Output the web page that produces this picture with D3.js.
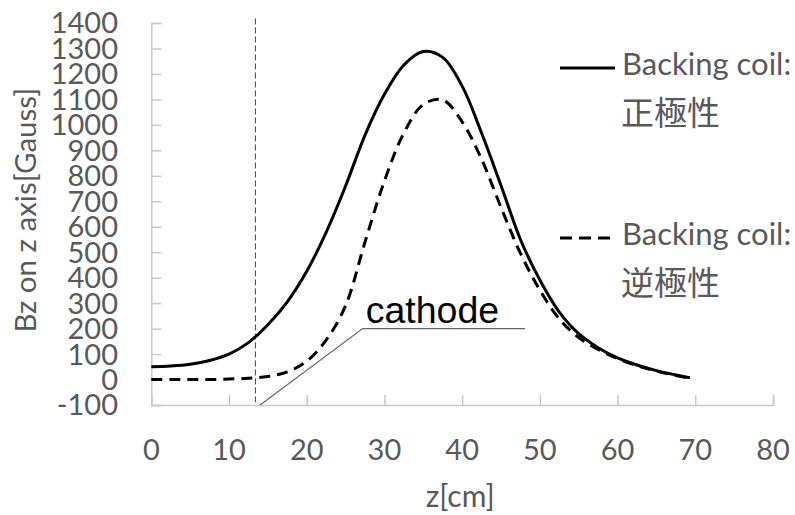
<!DOCTYPE html>
<html>
<head>
<meta charset="utf-8">
<script src="https://cdn.jsdelivr.net/npm/d3@7"></script>
<style>
  html, body { margin: 0; padding: 0; background: #fff; }
  svg { display: block; }
</style>
</head>
<body>
<svg id="chart" width="795" height="515"></svg>
<script>
// ---- data ----
const zValues = [0, 2.5, 5, 7.5, 10, 12.5, 15, 17.5, 20, 22.5, 25, 27.5, 30, 32.5, 35, 37.5, 40, 42.5, 45, 47.5, 50, 52.5, 55, 57.5, 60, 62.5, 65, 67.5, 69.3];
const bzPositive = [50, 53, 60, 75, 100, 145, 215, 305, 425, 578, 760, 960, 1120, 1235, 1288, 1265, 1152, 968, 762, 550, 391, 265, 180, 125, 85, 57, 35, 18, 7];
const bzReverse = [0, 0, 0, 0, 2, 5, 12, 30, 72, 155, 290, 540, 780, 968, 1080, 1098, 1012, 865, 676, 496, 351, 238, 165, 118, 82, 55, 33, 16, 5];
const seriesNames = ["Backing coil:\n正極性", "Backing coil:\n逆極性"];
const xTicks = [0, 10, 20, 30, 40, 50, 60, 70, 80];
const yTicks = [-100, 0, 100, 200, 300, 400, 500, 600, 700, 800, 900, 1000, 1100, 1200, 1300, 1400];
const cathodeZ = 13.4;
const cathodeLabel = "cathode";
const cathodeLeader = [[14, -100], [27.2, 200], [48.1, 200]];
const xTitle = "z[cm]";
const yTitle = "Bz on z axis[Gauss]";

// ---- layout ----
const svg = d3.select("#chart");
const x = d3.scaleLinear().domain([0, 80]).range([151.3, 773]);
const y = d3.scaleLinear().domain([-100, 1400]).range([405, 23]);
const gray = "#595959";
const axisColor = "#c8c8c8";
const font = "Lato, 'Open Sans', sans-serif";

// x axis (ticks inward, upward)
const xAxis = svg.append("g").attr("transform", `translate(0,${y(-100)})`)
  .call(d3.axisTop(x).tickValues(xTicks).tickSize(10).tickFormat(""));
xAxis.select(".domain").attr("stroke", axisColor).attr("stroke-width", 1.5);
xAxis.selectAll(".tick line").attr("stroke", axisColor).attr("stroke-width", 1.5);
svg.append("g").selectAll("text").data(xTicks).join("text")
  .attr("x", d => x(d)).attr("y", 460)
  .attr("text-anchor", "middle")
  .attr("font-family", font).attr("font-size", 29).attr("fill", gray)
  .text(d => d);

// y axis (ticks inward, rightward)
const yAxis = svg.append("g").attr("transform", `translate(${x(0)},0)`)
  .call(d3.axisRight(y).tickValues(yTicks).tickSize(10).tickFormat(""));
yAxis.select(".domain").attr("stroke", axisColor).attr("stroke-width", 1.5);
yAxis.selectAll(".tick line").attr("stroke", axisColor).attr("stroke-width", 1.5);
svg.append("g").selectAll("text").data(yTicks).join("text")
  .attr("x", 118).attr("y", d => y(d))
  .attr("dy", "0.36em")
  .attr("text-anchor", "end")
  .attr("font-family", font).attr("font-size", 29).attr("fill", gray)
  .text(d => d);

// axis titles
svg.append("text")
  .attr("x", x(40) - 2).attr("y", 507)
  .attr("text-anchor", "middle")
  .attr("font-family", font).attr("font-size", 30).attr("fill", gray)
  .text(xTitle);
svg.append("text")
  .attr("transform", `translate(36,${y(665)}) rotate(-90)`)
  .attr("text-anchor", "middle")
  .attr("font-family", font).attr("font-size", 29.5).attr("fill", gray)
  .text(yTitle);

// cathode vertical line
svg.append("line")
  .attr("x1", x(cathodeZ)).attr("x2", x(cathodeZ))
  .attr("y1", y(1418)).attr("y2", y(-100))
  .attr("stroke", "#444").attr("stroke-width", 1).attr("stroke-dasharray", "6,3");

// leader line + label
svg.append("path")
  .attr("d", d3.line().x(d => x(d[0])).y(d => y(d[1]))(cathodeLeader))
  .attr("fill", "none").attr("stroke", "#666").attr("stroke-width", 1.2);
svg.append("text")
  .attr("x", x(cathodeLeader[1][0]) + 3).attr("y", y(cathodeLeader[1][1]) - 6)
  .attr("font-family", "'Liberation Sans', Arial, sans-serif").attr("font-size", 37.5).attr("fill", "#000")
  .text(cathodeLabel);

// curves
const line = d3.line().x((d, i) => x(zValues[i])).y(d => y(d)).curve(d3.curveCatmullRom.alpha(0.5));
svg.append("path").attr("d", line(bzPositive))
  .attr("fill", "none").attr("stroke", "#000").attr("stroke-width", 3);
svg.append("path").attr("d", line(bzReverse))
  .attr("fill", "none").attr("stroke", "#000").attr("stroke-width", 3)
  .attr("stroke-dasharray", "11,7");

// legend
const legendItems = [
  { name: seriesNames[0], dash: null, ly: 68 },
  { name: seriesNames[1], dash: "12,7", ly: 238 }
];
legendItems.forEach(it => {
  svg.append("line").attr("x1", 560).attr("x2", 615).attr("y1", it.ly).attr("y2", it.ly)
    .attr("stroke", "#000").attr("stroke-width", 3)
    .attr("stroke-dasharray", it.dash);
  const lines = it.name.split("\n");
  svg.append("text").attr("x", 622).attr("y", it.ly + 7)
    .attr("font-family", font).attr("font-size", 31).attr("fill", gray)
    .text(lines[0]);
  svg.append("text").attr("x", 621).attr("y", it.ly + 57)
    .attr("font-family", "'Noto Sans CJK JP', sans-serif").attr("font-size", 33).attr("fill", gray)
    .text(lines[1]);
});
</script>
</body>
</html>
